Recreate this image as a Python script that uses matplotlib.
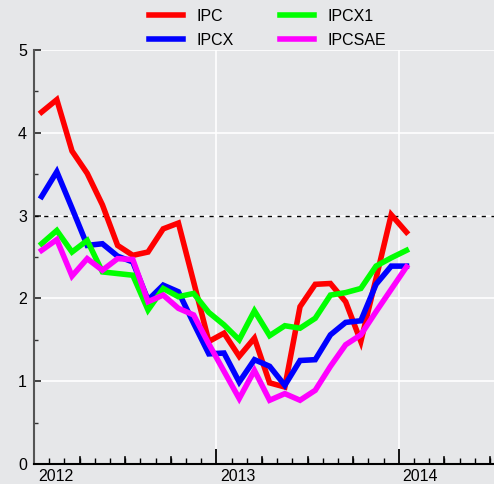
import matplotlib
matplotlib.use("Agg")
import matplotlib.pyplot as plt
import numpy as np

plt.rcParams['font.family'] = ['Liberation Sans', 'DejaVu Sans']

# Monthly data Jan 2012 .. Jan 2014
months = np.arange(25)
ipc = [4.25, 4.40, 3.78, 3.51, 3.13, 2.64, 2.52, 2.56, 2.84, 2.91, 2.20, 1.48, 1.58,
       1.30, 1.52, 0.98, 0.93, 1.90, 2.17, 2.18, 1.96, 1.48, 2.24, 3.01, 2.80]
ipcx = [3.23, 3.53, 3.09, 2.64, 2.66, 2.51, 2.44, 1.98, 2.16, 2.08, 1.70, 1.33, 1.34,
        0.99, 1.26, 1.18, 0.95, 1.25, 1.26, 1.56, 1.71, 1.73, 2.17, 2.39, 2.39]
ipcx1 = [2.66, 2.82, 2.56, 2.70, 2.32, 2.30, 2.28, 1.86, 2.12, 2.02, 2.06, 1.83, 1.68,
         1.50, 1.85, 1.55, 1.67, 1.64, 1.76, 2.04, 2.07, 2.12, 2.39, 2.49, 2.58]
ipcsae = [2.58, 2.71, 2.27, 2.48, 2.34, 2.48, 2.47, 1.96, 2.04, 1.88, 1.80, 1.45, 1.12,
          0.79, 1.13, 0.77, 0.85, 0.77, 0.89, 1.18, 1.44, 1.56, 1.84, 2.11, 2.38]
series = [("IPC", ipc, "#ff0000"), ("IPCX", ipcx, "#0000ff"),
          ("IPCX1", ipcx1, "#00ff00"), ("IPCSAE", ipcsae, "#ff00ff")]
years = ["2012", "2013", "2014"]
target = 3.0

bg = "#e6e7e9"
W, H = 494, 484
fig = plt.figure(figsize=(W / 100, H / 100), dpi=100, facecolor=bg)
ax = fig.add_axes([34 / W, 20 / H, (494 - 34) / W, (464 - 50) / H], facecolor=bg)

x = months + 0.5
lines = {}
for name, vals, col in series:
    lines[name], = ax.plot(x, vals, color=col, lw=4, solid_joinstyle='miter', zorder=3)

ax.axhline(target, color='black', lw=1, ls=(0, (3, 4)), zorder=2)

ax.set_xlim(0, 30.26)
ax.set_ylim(0, 5)

# grid
for yv in [1, 2, 3, 4, 5]:
    ax.axhline(yv, color='white', lw=1.2, zorder=1)
for xv in [12, 24]:
    ax.axvline(xv, color='white', lw=1.2, zorder=1)

for s in ['top', 'right']:
    ax.spines[s].set_visible(False)
ax.spines['left'].set_color('#555555')
ax.spines['left'].set_linewidth(1.5)
ax.spines['bottom'].set_color('black')
ax.spines['bottom'].set_linewidth(1.5)

ax.set_yticks([0, 1, 2, 3, 4, 5])
ax.set_yticks(np.arange(0.5, 5, 1), minor=True)
ax.tick_params(axis='y', which='major', direction='in', length=5, width=1.3,
               color='#333333', labelsize=11.5, pad=5)
ax.tick_params(axis='y', which='minor', direction='in', length=3, width=1, color='#333333')

# x ticks: years (long), months (short), quarters (medium, drawn separately)
ax.set_xticks([0, 12, 24])
ax.set_xticklabels([])
ax.tick_params(axis='x', which='major', direction='in', length=11, width=1.3, color='black')
ax.set_xticks([m for m in range(31) if m % 12 != 0], minor=True)
ax.tick_params(axis='x', which='minor', direction='in', length=4, width=1, color='black')
for m in range(31):
    if m % 12 != 0 and m % 3 == 0:
        ax.plot([m, m], [0, 7 / 82.8], color='black', lw=1.2, clip_on=False, zorder=4)

for i, yr in enumerate(years):
    ax.text(12 * i + 0.25, -0.06, yr, ha='left', va='top', fontsize=11.5,
            transform=ax.transData)

leg = fig.legend([lines[n] for n in ["IPC", "IPCX", "IPCX1", "IPCSAE"]],
                 ["IPC", "IPCX", "IPCX1", "IPCSAE"], ncol=2, loc='upper left',
                 bbox_to_anchor=(143 / W, 0.995), frameon=False, fontsize=11.5,
                 handlelength=2.1, handletextpad=0.85, columnspacing=2.9,
                 labelspacing=0.55, borderaxespad=0)

fig.savefig("out.png", dpi=100, facecolor=bg)
